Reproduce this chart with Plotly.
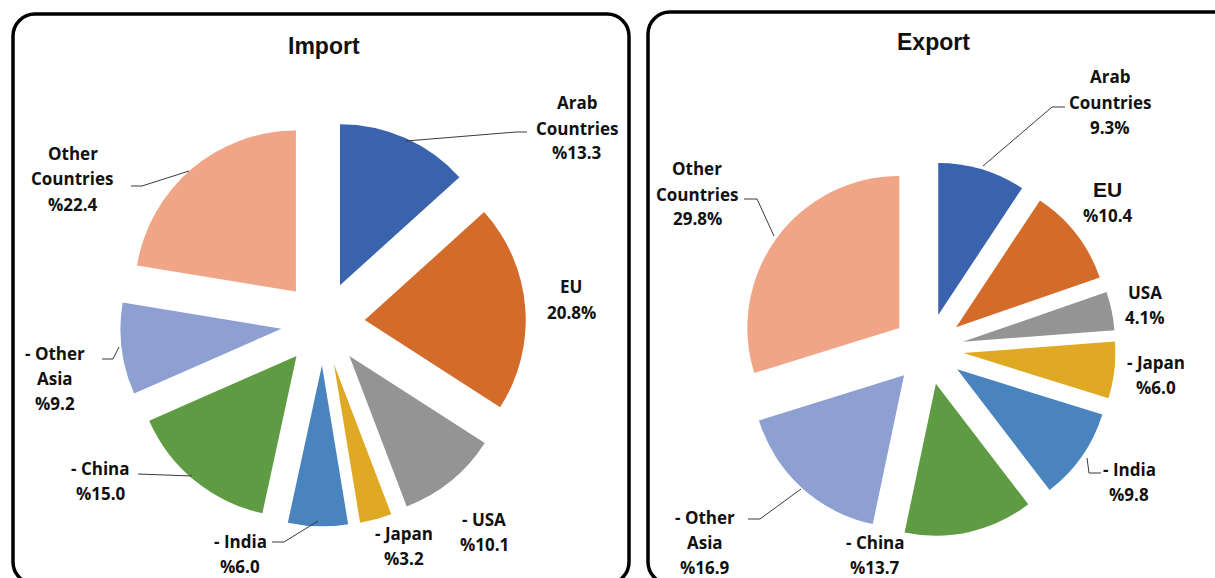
import plotly.graph_objects as go

W, H = 1215, 578

# ---------------- data ----------------
categories = ["Arab Countries", "EU", "USA", "Japan", "India", "China", "Other Asia", "Other Countries"]
import_values = [13.3, 20.8, 10.1, 3.2, 6.0, 15.0, 9.2, 22.4]
export_values = [9.3, 10.4, 4.1, 6.0, 9.8, 13.7, 16.9, 29.8]

import_label_lines = [["Arab", "Countries"], ["EU"], ["- USA"], ["- Japan"], ["- India"],
                      ["- China"], ["- Other", "Asia"], ["Other", "Countries"]]
import_pct_style = ["pre", "post", "pre", "pre", "pre", "pre", "pre", "pre"]

export_label_lines = [["Arab", "Countries"], ["EU"], ["USA"], ["- Japan"], ["- India"],
                      ["- China"], ["- Other", "Asia"], ["Other", "Countries"]]
export_pct_style = ["post", "pre", "post", "pre", "pre", "pre", "pre", "post"]

# ---------------- styling / layout ----------------
colors = ["#3A63AD", "#D36C2B", "#949494", "#E0A923", "#4A84BE", "#5E9B42", "#8E9FD1", "#F1A587"]

LABEL_FONT = dict(family="Open Sans", size=17, color="#111111")
TITLE_FONT = dict(family="Liberation Sans, Arial", size=23, color="#111111")
BIG_FONT = dict(family="Liberation Sans, Arial", size=21, color="#111111")
LINE_STEP = 25

# pie geometry (pixel centre, radius, pull fraction)
IMPORT_GEOM = dict(cx=323, cy=323.5, r=161, pull=0.26)
EXPORT_GEOM = dict(cx=928, cy=349, r=152, pull=0.234)

# label block positions: (centre x, first line y) in pixels
import_label_pos = [(577, 103), (571, 287), (484, 519), (404, 533), (240, 541),
                    (101, 468), (55, 353), (72.5, 154)]
export_label_pos = [(1110, 77), (1107.5, 190), (1145, 292), (1156, 362), (1129, 469),
                    (875, 542), (705, 517), (697, 169)]
export_big_first = [False, True, False, False, False, False, False, False]

# leader lines (pixel polylines)
import_leaders = [[(406, 141), (516, 132), (527, 132)],
                  [(189, 171), (142, 186), (131, 186)],
                  [(119, 347), (113, 359), (102, 359)],
                  [(192, 476), (138, 474)],
                  [(318, 521), (284, 542), (272, 542)]]
export_leaders = [[(983, 166), (1052, 107), (1065, 107)],
                  [(774, 236), (757, 199), (744, 199)],
                  [(1087, 458), (1089, 473), (1101, 473)],
                  [(801, 489), (760, 519), (748, 519)]]


def X(px):
    return px / W


def Y(py):
    return 1 - py / H


def pct_text(v, style):
    return f"%{v:.1f}" if style == "pre" else f"{v:.1f}%"


def pie_trace(values, g, name):
    R = g["r"] * (1 + g["pull"])
    return go.Pie(
        labels=categories, values=values, sort=False, direction="clockwise", rotation=0,
        marker=dict(colors=colors, line=dict(width=0)),
        pull=[g["pull"]] * len(values), textinfo="none", hoverinfo="label+percent",
        showlegend=False, name=name,
        domain=dict(x=[X(g["cx"] - R), X(g["cx"] + R)], y=[Y(g["cy"] + R), Y(g["cy"] - R)]),
    )


def rounded_rect(x0, y0, x1, y1, rad):
    k = 0.5523 * rad
    p = []
    p.append(f"M {X(x0 + rad)},{Y(y0)}")
    p.append(f"L {X(x1 - rad)},{Y(y0)}")
    p.append(f"C {X(x1 - rad + k)},{Y(y0)} {X(x1)},{Y(y0 + rad - k)} {X(x1)},{Y(y0 + rad)}")
    p.append(f"L {X(x1)},{Y(y1 - rad)}")
    p.append(f"C {X(x1)},{Y(y1 - rad + k)} {X(x1 - rad + k)},{Y(y1)} {X(x1 - rad)},{Y(y1)}")
    p.append(f"L {X(x0 + rad)},{Y(y1)}")
    p.append(f"C {X(x0 + rad - k)},{Y(y1)} {X(x0)},{Y(y1 - rad + k)} {X(x0)},{Y(y1 - rad)}")
    p.append(f"L {X(x0)},{Y(y0 + rad)}")
    p.append(f"C {X(x0)},{Y(y0 + rad - k)} {X(x0 + rad - k)},{Y(y0)} {X(x0 + rad)},{Y(y0)}")
    p.append("Z")
    return " ".join(p)


def polyline(pts):
    return "M " + " L ".join(f"{X(a)},{Y(b)}" for a, b in pts)


fig = go.Figure()
fig.add_trace(pie_trace(import_values, IMPORT_GEOM, "Import"))
fig.add_trace(pie_trace(export_values, EXPORT_GEOM, "Export"))

annotations = []
shapes = []

# titles
annotations.append(dict(text="<b>Import</b>", x=X(323.5), y=Y(46), xref="paper", yref="paper",
                        showarrow=False, font=TITLE_FONT, xanchor="center", yanchor="middle"))
annotations.append(dict(text="<b>Export</b>", x=X(933), y=Y(42), xref="paper", yref="paper",
                        showarrow=False, font=TITLE_FONT, xanchor="center", yanchor="middle"))


def add_labels(values, lines_list, styles, positions, big_first=None):
    for i, v in enumerate(values):
        lines = list(lines_list[i]) + [pct_text(v, styles[i])]
        cx, y0 = positions[i]
        for j, t in enumerate(lines):
            font = LABEL_FONT
            if big_first is not None and big_first[i] and j == 0:
                font = BIG_FONT
            annotations.append(dict(text=f"<b>{t}</b>", x=X(cx), y=Y(y0 + j * LINE_STEP),
                                    xref="paper", yref="paper", showarrow=False, font=font,
                                    xanchor="center", yanchor="middle"))


add_labels(import_values, import_label_lines, import_pct_style, import_label_pos)
add_labels(export_values, export_label_lines, export_pct_style, export_label_pos, export_big_first)

for pts in import_leaders + export_leaders:
    shapes.append(dict(type="path", path=polyline(pts), xref="paper", yref="paper",
                       line=dict(color="#3a3a3a", width=1)))

# frames
shapes.append(dict(type="path", path=rounded_rect(13, 14, 629, 584, 22), xref="paper", yref="paper",
                   line=dict(color="#000000", width=3.5)))
shapes.append(dict(type="path", path=rounded_rect(648, 12, 1236, 584, 22), xref="paper", yref="paper",
                   line=dict(color="#000000", width=3.5)))

fig.update_layout(
    width=W, height=H, margin=dict(l=0, r=0, t=0, b=0),
    paper_bgcolor="white", plot_bgcolor="white",
    annotations=annotations, shapes=shapes, showlegend=False,
)

fig.write_html("out.html", config={"displayModeBar": False},
               post_script="document.body.style.margin='0';")
